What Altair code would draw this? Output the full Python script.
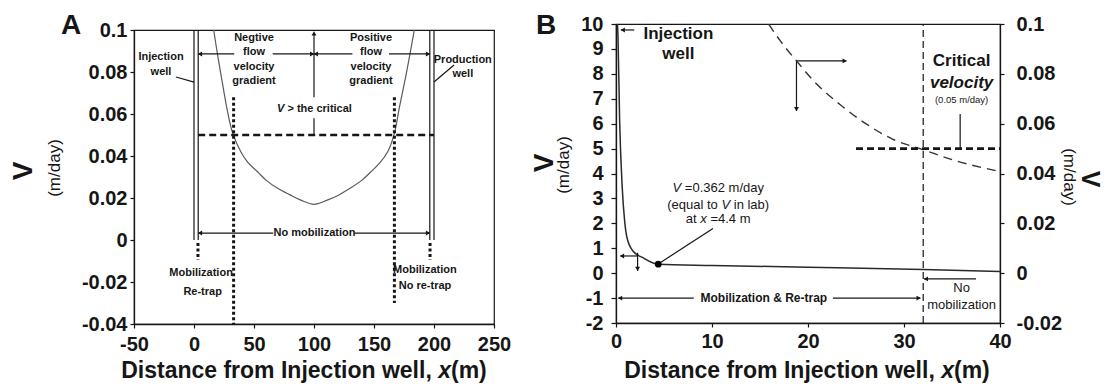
import altair as alt
import pandas as pd

FONT = "Liberation Sans, Arial, Helvetica, sans-serif"
INK = "#161616"

# ---------------- Panel A: injection well (x=0) to production well (x=200 m) ----------------
a_x = [16.4, 19.7, 23.9, 28.0, 32.2, 39.0, 45.0, 53.0, 60.0, 69.7, 80.0, 89.0, 100.0,
       111.0, 120.0, 130.0, 140.0, 147.5, 155.0, 161.4, 167.0, 171.0, 176.7, 183.6]
a_v = [0.100, 0.088, 0.074, 0.061, 0.051, 0.042, 0.0368, 0.0325, 0.0285, 0.0246, 0.0215, 0.0190, 0.0170,
       0.0190, 0.0212, 0.0246, 0.0285, 0.0325, 0.0368, 0.0420, 0.0508, 0.0627, 0.0786, 0.100]
a_critical = 0.05
a_cross_x = [33, 167]            # where the profile meets the critical velocity
a_wells = [0, 3.5, 196.5, 200]   # double lines of the two wells
a_xticks = [-50, 0, 50, 100, 150, 200, 250]
a_yticks = [-0.04, -0.02, 0, 0.02, 0.04, 0.06, 0.08, 0.1]

# ---------------- Panel B: first 40 m from the injection well ----------------
b_x = [0.15, 0.2, 0.38, 0.65, 0.9, 1.14, 1.76, 2.8, 4.4, 10, 20, 32, 40]
b_v = [10.0, 9.6, 6.1, 3.43, 2.1, 1.43, 0.89, 0.62, 0.362, 0.31, 0.24, 0.15, 0.07]
b_zoom_x = [15.9, 17.1, 18.8, 20.9, 23.3, 26.1, 28.8, 31.8, 35.4, 40.0]
b_zoom_v = [0.100, 0.0933, 0.0852, 0.0759, 0.0678, 0.0598, 0.0538, 0.0498, 0.0451, 0.0408]
b_lab_x, b_lab_v = 4.4, 0.362
b_critical = 0.05
b_critical_x = 32
b_xticks = [0, 10, 20, 30, 40]
b_yticks = list(range(-2, 11))
b_y2ticks = [-0.02, 0, 0.02, 0.04, 0.06, 0.08, 0.1]

NUM = "datum.value < 0 ? '-' + format(-datum.value, '~g') : format(datum.value, '~g')"


def axis(values, **kw):
    return alt.Axis(values=values, labelExpr=NUM, title=None, grid=False,
                    labelOverlap=False, labelFlush=False, labelBound=False, **kw)


def coords(sx, ax, sy, ay):
    X = lambda f: alt.X(f"{f}:Q", scale=sx, axis=ax)
    Y = lambda f: alt.Y(f"{f}:Q", scale=sy, axis=ay)
    return X, Y


def segs(rows, X, Y, width=1.2, dash=None, color=INK):
    df = pd.DataFrame(rows, columns=["x", "y", "x2", "y2"])
    kw = dict(strokeWidth=width, color=color)
    if dash:
        kw["strokeDash"] = dash
    return alt.Chart(df).mark_rule(**kw).encode(x=X("x"), y=Y("y"), x2="x2:Q", y2="y2:Q")


def heads(rows, X, Y, size=24):
    df = pd.DataFrame(rows, columns=["x", "y", "a"])
    return alt.Chart(df).mark_point(shape="triangle", filled=True, size=size, color=INK,
                                    opacity=1, strokeWidth=0).encode(
        x=X("x"), y=Y("y"), angle=alt.Angle("a:Q", scale=None))


def label(x, y, s, X, Y, size=11, weight="bold", style="normal", align="center", dx=0, lh=None):
    df = pd.DataFrame({"x": [x], "y": [y], "t": [s]})
    kw = dict(font=FONT, fontSize=size, fontWeight=weight, fontStyle=style, align=align,
              baseline="middle", dx=dx, color=INK)
    if lh:
        kw["lineHeight"] = lh
        kw["lineBreak"] = "\n"
    return alt.Chart(df).mark_text(**kw).encode(x=X("x"), y=Y("y"), text="t:N")


def ptext(px, py, s, size, weight="bold", style="normal", angle=0, align="center"):
    df = pd.DataFrame({"t": [s]})
    return alt.Chart(df).mark_text(font=FONT, fontSize=size, fontWeight=weight, fontStyle=style,
                                   angle=angle, align=align, baseline="middle", color=INK).encode(
        x=alt.value(px), y=alt.value(py), text="t:N")


def x_title(cx, cy):
    # "Distance from Injection well, x(m)" with an italic x
    return [
        ptext(cx - 182.8, cy, "Distance from Injection well,", 23, align="left"),
        ptext(cx + 134.2, cy, "x", 23, style="italic", align="left"),
        ptext(cx + 147.0, cy, "(m)", 23, align="left"),
    ]


# ======================= Panel A =======================
XA, YA = coords(alt.Scale(domain=[-50, 250], nice=False, zero=False),
                axis(a_xticks, tickSize=4, labelPadding=6),
                alt.Scale(domain=[-0.04, 0.1], nice=False, zero=False),
                axis(a_yticks, tickSize=4, labelPadding=3))

a_layers = [
    alt.Chart(pd.DataFrame({"x": a_x, "v": a_v})).mark_line(
        color="#5a5a5a", strokeWidth=1.2, interpolate="catmull-rom", clip=True).encode(x=XA("x"), y=YA("v")),
    segs([(w, 0, w, 0.1) for w in a_wells] + [
        (100, a_critical, 100, 0.058), (100, 0.068, 100, 0.098),
        (33.5, 0.0886, 3.5, 0.0886), (65.6, 0.0886, 100, 0.0886),
        (132, 0.0886, 100, 0.0886), (162.5, 0.0886, 196.5, 0.0886),
        (3.5, 0.0033, 66, 0.0033), (134, 0.0033, 196.5, 0.0033),
        (-15, 0.0776, 0, 0.0752), (216.7, 0.0833, 200, 0.0752),
    ], XA, YA),
    heads([(100, 0.0981, 0), (5.6, 0.0886, 270), (97.9, 0.0886, 90), (102.1, 0.0886, 270),
           (194.4, 0.0886, 90), (5.6, 0.0033, 270), (194.4, 0.0033, 90)], XA, YA),
    segs([(a_wells[1], a_critical, a_wells[3], a_critical)], XA, YA, width=2.6, dash=[7, 4]),
    segs([(a_cross_x[0], 0.068, a_cross_x[0], -0.04), (a_cross_x[1], 0.068, a_cross_x[1], -0.03),
          (3.3, -0.0014, 3.3, -0.0095), (196.7, -0.0014, 196.7, -0.0095)],
         XA, YA, width=3, dash=[3, 2.5]),
    label(50, 0.0962, "Negtive\nflow\nvelocity\ngradient", XA, YA, lh=14.5),
    label(147.5, 0.0962, "Positive\nflow\nvelocity\ngradient", XA, YA, lh=14.5),
    label(100, 0.0624, "V", XA, YA, style="italic", align="left", dx=-37),
    label(100, 0.0624, "> the critical", XA, YA, align="left", dx=-26.6),
    label(-27.5, 0.0871, "Injection\nwell", XA, YA, lh=15),
    label(224, 0.0857, "Production\nwell", XA, YA, lh=13.5),
    label(5.9, -0.0159, "Mobilization", XA, YA),
    label(7.2, -0.0249, "Re-trap", XA, YA),
    label(192.4, -0.0143, "Mobilization", XA, YA),
    label(192.5, -0.0219, "No re-trap", XA, YA),
    label(100.4, 0.0033, "No mobilization", XA, YA),
    ptext(-63, -4, "A", 28),
    ptext(-110, 141, "V", 28, angle=270),
    ptext(-79.5, 138, "(m/day)", 17, weight="normal", angle=270),
] + x_title(170, 341)

panel_a = alt.layer(*a_layers).properties(width=360, height=294)

# a thin empty strip that sets panel A slightly lower than panel B
strip = alt.Chart(pd.DataFrame({"k": [0]})).mark_point(opacity=0).encode(
    x=alt.value(0), y=alt.value(0)).properties(
    width=360, height=1, view=alt.ViewBackground(strokeOpacity=0))

left_col = alt.vconcat(strip, panel_a, spacing=5, bounds="flush")

# ======================= Panel B =======================
sxB = alt.Scale(domain=[0, 40], nice=False, zero=False)
axBx = axis(b_xticks, tickSize=4, labelPadding=4)
XB, YB = coords(sxB, axBx, alt.Scale(domain=[-2, 10], nice=False, zero=False),
                axis(b_yticks, tickSize=5, labelPadding=8))
XB2, YB2 = coords(sxB, axBx, alt.Scale(domain=[-0.02, 0.1], nice=False, zero=False),
                  axis(b_y2ticks, tickSize=4, labelPadding=12, orient="right"))

b_left = [
    alt.Chart(pd.DataFrame({"x": b_x, "v": b_v})).mark_line(
        color="#2a2a2a", strokeWidth=1.5, interpolate="monotone", clip=True).encode(x=XB("x"), y=YB("v")),
    alt.Chart(pd.DataFrame({"x": [b_lab_x], "v": [b_lab_v]})).mark_circle(
        size=45, color="#000", opacity=1).encode(x=XB("x"), y=YB("v")),
    segs([(b_critical_x, -2, b_critical_x, 10)], XB, YB, width=1.2, dash=[7, 4]),
    segs([(1.9, 9.76, 0.5, 9.76), (10.1, 1.79, 4.6, 0.42),
          (2.25, 0.69, 0.45, 0.69), (2.25, 0.82, 2.25, 0.09),
          (8.1, -1, 0.25, -1), (22.6, -1, 31.7, -1),
          (37.5, -0.23, 32.1, -0.23), (35.85, 6.39, 35.85, 5.0),
          (18.8, 8.52, 24.0, 8.52), (18.8, 8.52, 18.8, 6.51)], XB, YB),
    heads([(0.78, 9.76, 270), (0.7, 0.69, 270), (2.25, 0.2, 180), (0.5, -1, 270),
           (31.45, -1, 90), (32.35, -0.23, 270), (23.75, 8.52, 90), (18.8, 6.61, 180)], XB, YB),
    label(6.5, 9.59, "Injection\nwell", XB, YB, size=17, lh=20),
    label(10.65, 3.43, "V", XB, YB, size=13, weight="normal", style="italic", align="left", dx=-45.7),
    label(10.65, 3.43, "=0.362 m/day", XB, YB, size=13, weight="normal", align="left", dx=-33.4),
    label(10.65, 2.74, "(equal to", XB, YB, size=13, weight="normal", align="left", dx=-51),
    label(10.65, 2.74, "V", XB, YB, size=13, weight="normal", style="italic", align="left", dx=3.2),
    label(10.65, 2.74, "in lab)", XB, YB, size=13, weight="normal", align="left", dx=15.5),
    label(10.65, 2.16, "at", XB, YB, size=13, weight="normal", align="left", dx=-32.4),
    label(10.65, 2.16, "x", XB, YB, size=13, weight="normal", style="italic", align="left", dx=-17.9),
    label(10.65, 2.16, "=4.4 m", XB, YB, size=13, weight="normal", align="left", dx=-7.8),
    label(15.4, -1, "Mobilization & Re-trap", XB, YB, size=12),
    label(36, -0.59, "No\nmobilization", XB, YB, size=13, weight="normal", lh=17),
    label(36, 8.52, "Critical", XB, YB, size=17),
    label(36, 7.64, "velocity", XB, YB, size=17, style="italic"),
    label(36, 6.96, "(0.05 m/day)", XB, YB, size=9.5, weight="normal"),
    ptext(-70, 2, "B", 28),
    ptext(-71, 139, "V", 28, angle=270),
    ptext(-52, 141, "(m/day)", 17, weight="normal", angle=270),
    ptext(453, 153, "(m/day)", 17, weight="normal", angle=90),
    ptext(474, 155, "V", 25, angle=90),
] + x_title(191, 347)

b_right = [
    alt.Chart(pd.DataFrame({"x": b_zoom_x, "v": b_zoom_v})).mark_line(
        color="#333", strokeWidth=1.4, strokeDash=[9, 6], interpolate="monotone", clip=True).encode(
        x=XB2("x"), y=YB2("v")),
    segs([(25, b_critical, 40, b_critical)], XB2, YB2, width=2.6, dash=[7, 4]),
]

panel_b = alt.layer(alt.layer(*b_left), alt.layer(*b_right)).resolve_scale(
    y="independent").properties(width=384, height=299)

# the nested column counts as zero width in a flush layout, so the gap carries panel A's width
chart = alt.hconcat(left_col, panel_b, spacing=482, bounds="flush").properties(
    padding={"left": 9, "top": 11, "right": 4, "bottom": 0}
).configure_axis(
    domainColor=INK, domainWidth=1.3, tickColor=INK, tickWidth=1.2,
    labelFont=FONT, labelFontSize=20, labelFontWeight="bold", labelColor=INK,
).configure_view(stroke=INK, strokeWidth=1.2)

chart.save("out.html", embed_options={"renderer": "svg", "actions": False})
